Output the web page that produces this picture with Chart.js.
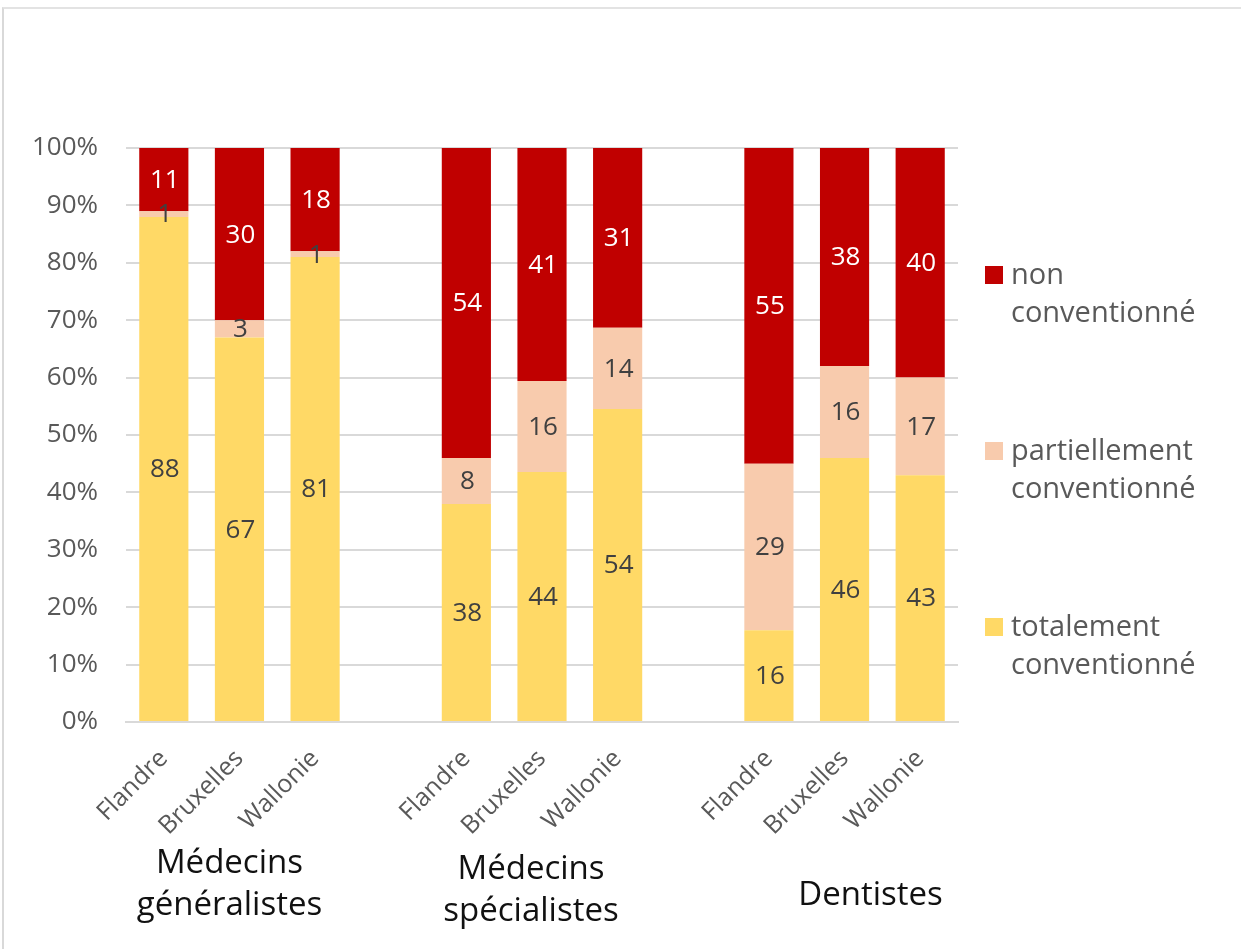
<!DOCTYPE html>
<html>
<head>
<meta charset="utf-8">
<script src="https://cdn.jsdelivr.net/npm/chart.js@4"></script>
<style>
body { margin: 0; background: #fff; }
#wrap { position: relative; width: 1241px; height: 949px; }
#frame { position: absolute; left: 2px; top: 7px; right: 0; bottom: 0; border-left: 2px solid #d9d9d9; border-top: 2px solid #e3e3e3; pointer-events: none; }
</style>
</head>
<body>
<div id="wrap"><canvas id="chart" width="1241" height="949"></canvas><div id="frame"></div></div>
<script>
// categories (empty strings are the gaps between groups)
var regions = ["Flandre", "Bruxelles", "Wallonie", "", "Flandre", "Bruxelles", "Wallonie", "", "Flandre", "Bruxelles", "Wallonie"];
var groupNames = [["Médecins", "généralistes"], ["Médecins", "spécialistes"], ["Dentistes"]];
var groupMiddle = [1, 5, 9];

// values shown on the bars
var totalement = [88, 67, 81, null, 38, 44, 54, null, 16, 46, 43];
var partiellement = [1, 3, 1, null, 8, 16, 14, null, 29, 16, 17];
var nonConv = [11, 30, 18, null, 54, 41, 31, null, 55, 38, 40];

var legendNames = [["non", "conventionné"], ["partiellement", "conventionné"], ["totalement", "conventionné"]];

var FONT = "'Open Sans', sans-serif";

// 100% stacked: each bar is scaled to its own total
function share(arr) {
    return arr.map(function (v, i) {
        if (v == null) return null;
        var sum = totalement[i] + partiellement[i] + nonConv[i];
        return v / sum * 100;
    });
}

var barLabels = {
    id: "barLabels",
    afterDatasetsDraw: function (chart) {
        var ctx = chart.ctx;
        ctx.save();
        ctx.font = "26px " + FONT;
        ctx.textAlign = "center";
        ctx.textBaseline = "middle";
        chart.data.datasets.forEach(function (ds, di) {
            var meta = chart.getDatasetMeta(di);
            meta.data.forEach(function (bar, i) {
                if (ds.raw[i] == null) return;
                var c = bar.getCenterPoint();
                ctx.fillStyle = ds.labelColor;
                ctx.fillText(String(ds.raw[i]), c.x + 1, c.y + 1);
            });
        });
        ctx.restore();
    }
};

var groupLabels = {
    id: "groupLabels",
    afterDraw: function (chart) {
        var ctx = chart.ctx;
        var xs = chart.scales.x;
        var bottom = chart.chartArea.bottom;
        var shift = [-10, -11, 26];
        ctx.save();
        ctx.font = "33px " + FONT;
        ctx.fillStyle = "#111";
        ctx.textAlign = "center";
        ctx.textBaseline = "middle";
        groupNames.forEach(function (lines, g) {
            var x = xs.getPixelForValue(groupMiddle[g]) + shift[g];
            var y0 = lines.length == 1 ? bottom + 174 : bottom + 142;
            if (g == 1) y0 += 6;
            lines.forEach(function (t, k) {
                ctx.fillText(t, x, y0 + k * 42);
            });
        });
        ctx.restore();
    }
};

var sideLegend = {
    id: "sideLegend",
    afterDraw: function (chart) {
        var ctx = chart.ctx;
        var x = chart.chartArea.right + 27;
        var ds = chart.data.datasets;
        ctx.save();
        ctx.font = "29px " + FONT;
        ctx.textBaseline = "middle";
        legendNames.forEach(function (lines, k) {
            var y = 275 + k * 176;
            var d = ds[ds.length - 1 - k];
            ctx.fillStyle = d.backgroundColor;
            ctx.fillRect(x, y - 9, 18, 18);
            ctx.fillStyle = "#595959";
            lines.forEach(function (t, j) {
                ctx.fillText(t, x + 26, y + 1 + j * 38);
            });
        });
        ctx.restore();
    }
};

var canvasElement = document.getElementById("chart");
var config = {
    type: "bar",
    data: {
        labels: regions,
        datasets: [{
            label: "totalement conventionné",
            data: share(totalement),
            raw: totalement,
            backgroundColor: "#FFD966",
            labelColor: "#404040"
        }, {
            label: "partiellement conventionné",
            data: share(partiellement),
            raw: partiellement,
            backgroundColor: "#F8CBAD",
            labelColor: "#404040"
        }, {
            label: "non conventionné",
            data: share(nonConv),
            raw: nonConv,
            backgroundColor: "#C00000",
            labelColor: "#ffffff"
        }]
    },
    options: {
        responsive: false,
        animation: false,
        barPercentage: 0.65,
        categoryPercentage: 1,
        layout: { padding: { top: 148, right: 283, left: 0, bottom: 0 } },
        plugins: {
            legend: { display: false },
            tooltip: { enabled: false }
        },
        scales: {
            x: {
                stacked: true,
                grid: { display: false },
                border: { color: "#d9d9d9", width: 2 },
                ticks: {
                    minRotation: 45,
                    maxRotation: 45,
                    padding: 14,
                    color: "#595959",
                    font: { family: "'Open Sans', sans-serif", size: 25 }
                },
                afterFit: function (scale) { scale.height = 227; }
            },
            y: {
                stacked: true,
                min: 0,
                max: 100,
                grid: { color: "#d9d9d9", lineWidth: 2, drawTicks: false },
                border: { display: false },
                ticks: {
                    stepSize: 10,
                    padding: 28,
                    color: "#595959",
                    font: { family: "'Open Sans', sans-serif", size: 26 },
                    callback: function (v) { return v + "%"; }
                },
                afterFit: function (scale) { scale.width = 126; }
            }
        }
    },
    plugins: [barLabels, groupLabels, sideLegend]
};

var chart = new Chart(canvasElement, config);
</script>
</body>
</html>
